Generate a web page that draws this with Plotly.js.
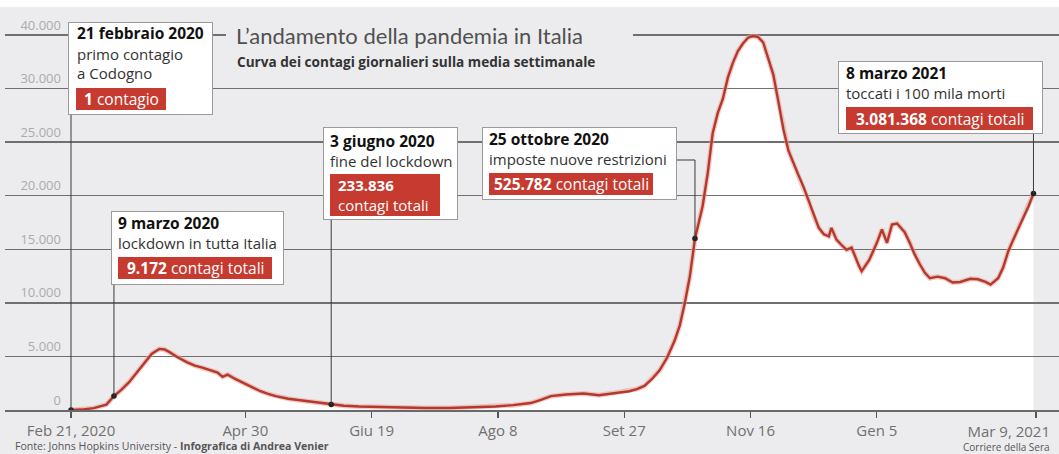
<!DOCTYPE html>
<html><head><meta charset="utf-8">
<script src="https://cdn.plot.ly/plotly-3.0.1.min.js"></script>
<style>html,body{margin:0;padding:0;background:#ececee;overflow:hidden}#chart{width:1059px;height:454px;}</style>
</head><body><div id="chart"></div>
<script>
// ---------- DATA ----------
const dates = ['2020-02-21','2020-02-25','2020-03-01','2020-03-06','2020-03-09','2020-03-12','2020-03-15','2020-03-18','2020-03-21','2020-03-24','2020-03-27','2020-03-29','2020-03-31','2020-04-03','2020-04-07','2020-04-10','2020-04-13','2020-04-16','2020-04-19','2020-04-21','2020-04-23','2020-04-26','2020-04-29','2020-05-02','2020-05-06','2020-05-09','2020-05-12','2020-05-17','2020-05-22','2020-05-26','2020-05-30','2020-06-03','2020-06-08','2020-06-14','2020-06-22','2020-06-30','2020-07-10','2020-07-20','2020-07-30','2020-08-07','2020-08-14','2020-08-21','2020-08-25','2020-08-29','2020-09-04','2020-09-11','2020-09-17','2020-09-24','2020-09-29','2020-10-02','2020-10-05','2020-10-08','2020-10-11','2020-10-14','2020-10-17','2020-10-19','2020-10-21','2020-10-23','2020-10-24','2020-10-25','2020-10-28','2020-10-30','2020-11-01','2020-11-03','2020-11-05','2020-11-07','2020-11-09','2020-11-11','2020-11-13','2020-11-15','2020-11-17','2020-11-19','2020-11-21','2020-11-23','2020-11-25','2020-11-27','2020-11-29','2020-12-01','2020-12-03','2020-12-05','2020-12-07','2020-12-09','2020-12-11','2020-12-13','2020-12-15','2020-12-17','2020-12-18','2020-12-20','2020-12-22','2020-12-24','2020-12-26','2020-12-27','2020-12-29','2020-12-30','2021-01-02','2021-01-05','2021-01-07','2021-01-09','2021-01-11','2021-01-13','2021-01-16','2021-01-18','2021-01-20','2021-01-22','2021-01-24','2021-01-26','2021-01-29','2021-02-01','2021-02-04','2021-02-07','2021-02-11','2021-02-14','2021-02-17','2021-02-19','2021-02-22','2021-02-24','2021-02-26','2021-02-28','2021-03-02','2021-03-04','2021-03-06','2021-03-08'];
const cases = [0,40,170,500,1300,1900,2600,3500,4400,5250,5700,5650,5400,4950,4450,4150,3950,3750,3500,3100,3300,2900,2550,2150,1750,1500,1290,1050,890,770,650,510,400,320,260,220,190,180,250,330,450,650,950,1290,1450,1540,1380,1600,1750,1950,2250,2900,3700,4900,6500,7900,10000,12500,14200,16000,19000,22000,25800,27700,29000,31000,32400,33500,34200,34750,34900,34800,34300,32900,31300,28800,26200,24200,23000,21900,20800,19500,18100,17000,16400,16200,17000,15900,15400,14950,15150,14500,13400,12950,14000,15600,16850,15600,17300,17400,16600,15600,14500,13600,12800,12300,12450,12300,11900,11950,12250,12200,11950,11700,12300,13300,14800,15900,16900,17900,19000,20200];

const xTickDates = ['2020-02-21','2020-04-30','2020-06-19','2020-08-08','2020-09-27','2020-11-16','2021-01-05','2021-03-09'];
const xTickLabels = ['Feb 21, 2020','Apr 30','Giu 19','Ago 8','Set 27','Nov 16','Gen 5','Mar 9, 2021'];
const yTickValues = [0,5000,10000,15000,20000,25000,30000,35000];
const yTickLabels = ['0','5.000','10.000','15.000','20.000','25.000','30.000','40.000'];

const eventDates = ['2020-02-21','2020-03-09','2020-06-03','2020-10-25','2021-03-08'];
const eventTitles = ['21 febbraio 2020','9 marzo 2020','3 giugno 2020','25 ottobre 2020','8 marzo 2021'];
const eventDescriptions = [['primo contagio','a Codogno'],['lockdown in tutta Italia'],['fine del lockdown'],['imposte nuove restrizioni'],['toccati i 100 mila morti']];
const eventTotals = ['1','9.172','233.836','525.782','3.081.368'];
const eventTotalLabels = ['contagio','contagi totali','contagi totali','contagi totali','contagi totali'];

const chartTitle = 'L’andamento della pandemia in Italia';
const chartSubtitle = 'Curva dei contagi giornalieri sulla media settimanale';
const sourceText = 'Fonte: Johns Hopkins University - ';
const creditText = 'Infografica di Andrea Venier';
const publisherText = 'Corriere della Sera';

// ---------- STYLE / GEOMETRY ----------
const W = 1059, H = 454, ML = 5, MR = 0, MT = 7, MB = 44;
const PW = W - ML - MR, PH = H - MT - MB;
const Y_MAX = 37613;
const BG = '#ececee', RED = '#c63a2f', LINE_RED = '#b3382d';
const pxDay = 2.5262;
const t0 = Date.UTC(2020, 1, 21);
const msPerPx = 86400000 / pxDay;
const xRange = [t0 - (71 - ML) * msPerPx, t0 + (W - MR - 71) * msPerPx];
const yRange = [0, Y_MAX];
const px = x => (x - ML) / PW;
const py = y => (H - MB - y) / PH;
const valToPy = v => (H - MB) - v / Y_MAX * PH;
const dateToPx = d => ML + (Date.parse(d) - xRange[0]) / msPerPx;

// box geometry (pixels) for each event
const boxes = [
  {x:68, y:22, w:145, h:93, tx:77, lines:[33,54,73], red:{x:76,y:88,w:90,h:22}},
  {x:111, y:211, w:173, h:74, tx:118, lines:[223,243], red:{x:118,y:257,w:154,h:22}},
  {x:323, y:127, w:135, h:93, tx:330, lines:[141,161], red:{x:330,y:174,w:110,h:42,twoLine:true}},
  {x:482, y:127, w:195, h:73, tx:489, lines:[139,159], red:{x:489,y:173,w:164,h:22}, elbowY:160},
  {x:838, y:61, w:205, h:73, tx:846, lines:[73,93], red:{x:846,y:107,w:187,h:23}}
];

const eventValues = eventDates.map(d => cases[dates.indexOf(d)]);
const lastTick = xTickDates.length - 1;

// ---------- TRACES ----------
const fillTrace = {
  x: dates, y: cases, type: 'scatter', mode: 'lines', xaxis: 'x', yaxis: 'y',
  fill: 'tozeroy', fillcolor: '#ffffff', line: {width: 0, color: 'rgba(0,0,0,0)'}, hoverinfo: 'skip'
};
const haloTrace = {
  x: dates, y: cases, type: 'scatter', mode: 'lines', xaxis: 'x2', yaxis: 'y2',
  line: {width: 5, color: 'rgba(235,160,150,0.55)'}, hoverinfo: 'skip'
};
const lineTrace = {
  x: dates, y: cases, type: 'scatter', mode: 'lines', xaxis: 'x2', yaxis: 'y2',
  line: {width: 2.4, color: LINE_RED}
};
const markerTrace = {
  x: eventDates, y: eventValues, type: 'scatter', mode: 'markers', xaxis: 'x2', yaxis: 'y2',
  marker: {size: 5.5, color: '#222'}
};
const lastLabelHolder = {
  x: [xTickDates[lastTick]], y: [0], type: 'scatter', mode: 'markers', xaxis: 'x3', yaxis: 'y2',
  marker: {size: 1, opacity: 0}, hoverinfo: 'skip'
};

// ---------- SHAPES ----------
const shapes = [
  {type:'rect', xref:'paper', yref:'paper', x0:px(0), x1:px(W), y0:py(7), y1:py(0), fillcolor:'#ffffff', line:{width:0}, layer:'above'},
  {type:'rect', xref:'paper', yref:'paper', x0:px(226), x1:px(633), y0:py(48), y1:py(22), fillcolor:BG, line:{width:0}, layer:'above'}
];
eventDates.forEach((d, i) => {
  const b = boxes[i];
  const my = valToPy(eventValues[i]);
  const topY = b.elbowY !== undefined ? b.elbowY : b.y + b.h;
  const len = my - topY;
  shapes.push({type:'line', xref:'x2', yref:'y2', x0:d, x1:d, ysizemode:'pixel', yanchor:eventValues[i], y0:0, y1:len, line:{color:'#3a3a3a', width:1}, layer:'above'});
  if (b.elbowY !== undefined) {
    const dx = dateToPx(d) - (b.x + b.w);
    shapes.push({type:'line', xref:'x2', yref:'y2', xsizemode:'pixel', xanchor:d, x0:-dx, x1:0, ysizemode:'pixel', yanchor:eventValues[i], y0:len, y1:len, line:{color:'#3a3a3a', width:1}, layer:'above'});
  }
});

// ---------- ANNOTATIONS ----------
const FONT = 'Open Sans, sans-serif';
const ann = [];
const txt = (x, y, text, font, xanchor, align) => ({xref:'paper', yref:'paper', x:px(x), y:py(y), xanchor:xanchor || 'left', yanchor:'middle', align:align || 'left', text:text, showarrow:false, borderpad:0, borderwidth:0, font:font});
ann.push(txt(236, 35, chartTitle, {family:'Lato, sans-serif', size:22, color:'#505050'}));
ann.push(txt(237, 61, '<b>'+chartSubtitle+'</b>', {family:FONT, size:13.6, color:'#333'}));
ann.push(txt(15, 446, sourceText+'<b>'+creditText+'</b>', {family:FONT, size:10.6, color:'#555'}));
ann.push(txt(1050, 447, publisherText, {family:FONT, size:10, color:'#555'}, 'right'));

eventDates.forEach((d, i) => {
  const b = boxes[i];
  ann.push({xref:'paper', yref:'paper', x:px(b.x), y:py(b.y), xanchor:'left', yanchor:'top', text:' ', width:b.w-2, height:b.h-2, bgcolor:'#ffffff', bordercolor:'#9a9a9a', borderwidth:1, borderpad:0, showarrow:false});
  const lines = [eventTitles[i]].concat(eventDescriptions[i]);
  lines.forEach((t, j) => {
    ann.push(txt(b.tx, b.lines[j], j === 0 ? '<b>'+t+'</b>' : t, {family:FONT, size: j === 0 ? 15.5 : 15, color: j === 0 ? '#111' : '#333'}));
  });
  const r = b.red;
  ann.push({xref:'paper', yref:'paper', x:px(r.x), y:py(r.y), xanchor:'left', yanchor:'top', text:' ', width:r.w, height:r.h, bgcolor:RED, borderwidth:0, borderpad:0, showarrow:false});
  const redFont = {family:FONT, size:15.5, color:'#ffffff'};
  if (r.twoLine) {
    ann.push(txt(r.x + 8, r.y + r.h / 2, '<b>'+eventTotals[i]+'</b><br>'+eventTotalLabels[i], {family:FONT, size:15, color:'#ffffff'}));
  } else {
    ann.push(txt(r.x + r.w / 2, r.y + r.h / 2, '<b>'+eventTotals[i]+'</b> '+eventTotalLabels[i], redFont, 'center', 'center'));
  }
});

// ---------- LAYOUT ----------
const xTickFont = {family:FONT, size:15, color:'#707070'};
const layout = {
  width: W, height: H,
  margin: {l: ML, r: MR, t: MT, b: MB, pad: 0},
  paper_bgcolor: BG, plot_bgcolor: 'rgba(0,0,0,0)',
  showlegend: false,
  font: {family: FONT, color: '#666'},
  xaxis: {type:'date', range:xRange, domain:[0,1], anchor:'y', visible:false, fixedrange:true},
  yaxis: {range:yRange, domain:[0,1], anchor:'x', visible:false, fixedrange:true},
  xaxis2: {type:'date', range:xRange, domain:[0,1], anchor:'y2', showgrid:false, zeroline:false,
    showline:true, linecolor:'#6a6a6a', linewidth:1.5,
    ticks:'outside', ticklen:6, tickwidth:1.2, tickcolor:'#555',
    tickmode:'array', tickvals:xTickDates,
    ticktext:xTickLabels.map((t, i) => i === lastTick ? '' : t),
    tickfont:xTickFont, fixedrange:true},
  xaxis3: {type:'date', range:xRange, overlaying:'x2', anchor:'y2', showgrid:false, zeroline:false, showline:false,
    ticks:'', tickmode:'array', tickvals:[xTickDates[lastTick]], ticktext:[xTickLabels[lastTick]],
    ticklabelposition:'outside left', ticklabeloverflow:'allow', ticklabelshift:14, ticklabelstandoff:11,
    tickfont:xTickFont, fixedrange:true},
  yaxis2: {range:yRange, domain:[0,1], anchor:'free', position:px(61), side:'left',
    showgrid:true, gridcolor:'#6f6f6f', gridwidth:1.3, zeroline:false, showline:false, ticks:'',
    tickmode:'array', tickvals:yTickValues, ticktext:yTickLabels, ticklabelshift:-10,
    tickfont:{family:FONT, size:13, color:'#ababab'}, fixedrange:true},
  shapes: shapes,
  annotations: ann
};

Plotly.newPlot('chart', [fillTrace, haloTrace, lineTrace, markerTrace, lastLabelHolder], layout, {displayModeBar:false, staticPlot:true});
</script>
</body></html>
